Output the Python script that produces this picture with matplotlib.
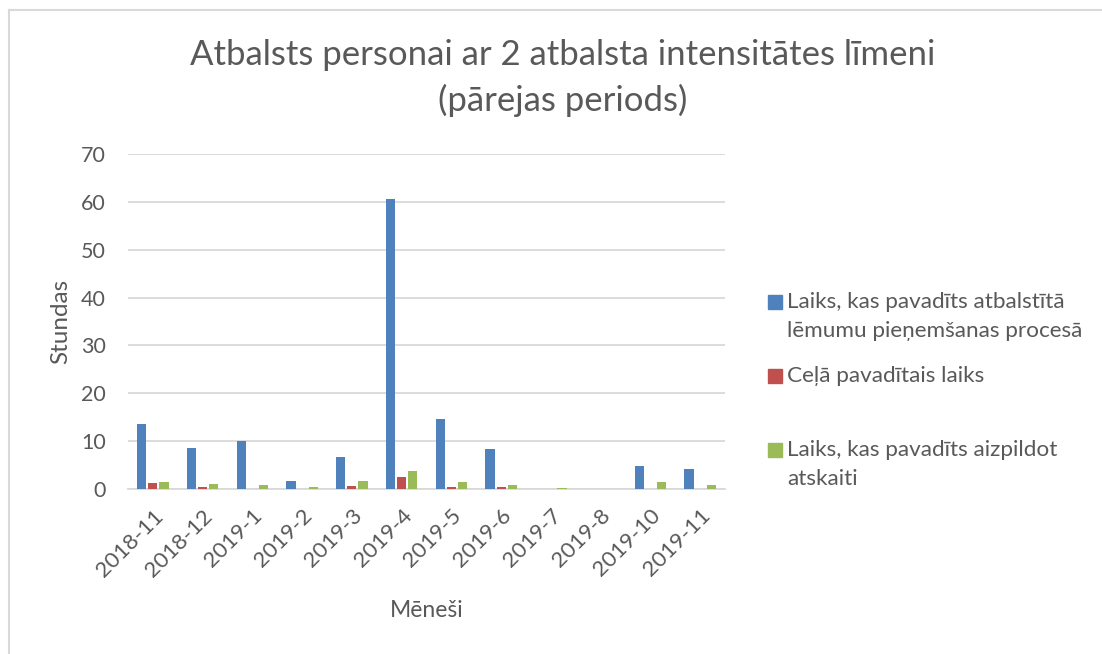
import matplotlib
matplotlib.use("Agg")
import matplotlib.pyplot as plt
import numpy as np
from matplotlib.lines import Line2D
from matplotlib.patches import Rectangle

months = ["2018-11", "2018-12", "2019-1", "2019-2", "2019-3", "2019-4",
          "2019-5", "2019-6", "2019-7", "2019-8", "2019-10", "2019-11"]
decision_time = [13.6, 8.5, 10.0, 1.7, 6.6, 60.5, 14.7, 8.3, 0.1, 0.1, 4.75, 4.1]
travel_time = [1.2, 0.5, 0.0, 0.0, 0.6, 2.5, 0.5, 0.5, 0.0, 0.0, 0.1, 0.05]
report_time = [1.4, 1.0, 0.8, 0.5, 1.7, 3.8, 1.4, 0.85, 0.3, 0.1, 1.4, 0.85]
series_names = [["Laiks, kas pavadīts atbalstītā", "lēmumu pieņemšanas procesā"],
                ["Ceļā pavadītais laiks"],
                ["Laiks, kas pavadīts aizpildot", "atskaiti"]]
colors = ["#4f81bd", "#c0504d", "#9bbb59"]
yticks = [0, 10, 20, 30, 40, 50, 60, 70]

plt.rcParams['font.family'] = ['Lato', 'DejaVu Sans']
txt = "#595959"

W, H = 1102, 654
fig = plt.figure(figsize=(W / 100, H / 100), dpi=100)
ax = fig.add_axes([128 / W, 1 - 489 / H, (725 - 128) / W, (489 - 154) / H])

x = np.arange(len(months))
bw = 0.185
gap = 0.04
for i, (vals, c) in enumerate(zip([decision_time, travel_time, report_time], colors)):
    ax.bar(x + (i - 1) * (bw + gap), vals, width=bw, color=c, zorder=3)

ax.set_xlim(-0.5, len(months) - 0.5)
ax.set_ylim(0, 70)
ax.set_yticks(yticks)
ax.yaxis.grid(True, color="#d9d9d9", linewidth=1.3, zorder=0)
for s in ["top", "right", "left"]:
    ax.spines[s].set_visible(False)
ax.spines["bottom"].set_color("#d9d9d9")
ax.spines["bottom"].set_linewidth(1.3)
ax.tick_params(axis="y", length=0, colors=txt, labelsize=15.5, pad=16)
ax.tick_params(axis="x", length=0, colors=txt, labelsize=16, pad=12)
ax.set_xticks(x)
ax.set_xticklabels(months, rotation=45, ha="right", rotation_mode="anchor")
for lab in ax.get_xticklabels():
    lab.set_color(txt)

ax.set_ylabel("Stundas", color=txt, fontsize=17.5, labelpad=7)
ax.set_xlabel("Mēneši", color=txt, fontsize=16.5, labelpad=14)

fig.text(563 / W, 1 - 55 / H, "Atbalsts personai ar 2 atbalsta intensitātes līmeni",
         ha="center", va="center", fontsize=25, color=txt)
fig.text(563 / W, 1 - 100 / H, "(pārejas periods)",
         ha="center", va="center", fontsize=25, color=txt)

# legend
entry_y = [302, 376, 450]
for names, c, y0 in zip(series_names, colors, entry_y):
    fig.add_artist(Rectangle((768 / W, 1 - (y0 + 7) / H), 14 / W, 14 / H,
                             transform=fig.transFigure, color=c))
    for k, line in enumerate(names):
        fig.text(787 / W, 1 - (y0 + 29 * k) / H, line, ha="left", va="center",
                 fontsize=16.2, color=txt)

fig.add_artist(Line2D([8.5 / W, 8.5 / W], [0, 1 - 10 / H], transform=fig.transFigure, color="#d9d9d9", linewidth=1.5))
fig.add_artist(Line2D([8.5 / W, 1], [1 - 10 / H, 1 - 10 / H], transform=fig.transFigure, color="#d9d9d9", linewidth=1.5))

fig.savefig("out.png", dpi=100)
